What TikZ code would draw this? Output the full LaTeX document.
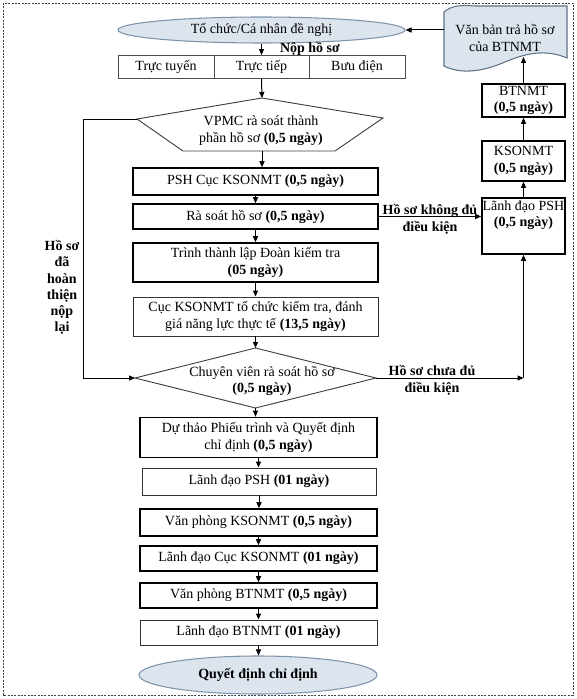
\documentclass[tikz,border=0pt]{standalone}
\usepackage{fontspec}
\setmainfont{Liberation Serif}
\usetikzlibrary{arrows.meta,calc,shapes.geometric}
\definecolor{efill}{HTML}{DCE4EE}
\definecolor{edraw}{HTML}{7E94AA}
\definecolor{ddraw}{HTML}{5F7388}
\begin{document}
\begin{tikzpicture}[x=0.75pt,y=-0.75pt,
  font=\fontsize{10.5}{12.6}\selectfont,
  sz/.style 2 args={minimum width=#1*0.75pt, minimum height=#2*0.75pt},
  base/.style={draw, inner sep=1pt, align=center, text=black},
  tbox/.style={base, line width=1.2pt, draw=black},
  nbox/.style={base, line width=0.7pt, draw=black!80},
  cell/.style={base, line width=0.7pt, draw=black!70},
  ell/.style={ellipse, draw=edraw, fill=efill, line width=0.8pt, inner sep=0pt, align=center},
  shp/.style={line width=0.7pt, draw=black!75},
  lbl/.style={align=center, font=\fontsize{10.5}{12.6}\selectfont\bfseries, inner sep=0pt},
  txt/.style={align=center, inner sep=0pt},
  arr/.style={-{Triangle[length=4.5pt,width=3.8pt]}, line width=0.75pt}
]
\useasboundingbox (0,0) rectangle (576,699);
\draw[line width=0.6pt, draw=black!75, dash pattern=on 1.6pt off 0.9pt] (3,3) rectangle (573,695);

% top ellipse
\node[ell, sz={287}{26}] (e1) at (261.5,30) {Tổ chức/Cá nhân đề nghị};
\node[lbl] (nop) at (310,49) {Nộp hồ sơ};

% table
\node[cell, sz={96}{23}] (c1) at (166,67) {Trực tuyến};
\node[cell, sz={95}{23}] (c2) at (261.5,67) {Trực tiếp};
\node[cell, sz={96}{23}] (c3) at (357,67) {Bưu điện};

% document shape
\draw[draw=ddraw, fill=efill, line width=0.8pt]
  (444,12) .. controls (452,5) and (462,5) .. (476,6) -- (567,6) -- (567,58)
  .. controls (546,49) and (526,53) .. (505,62)
  .. controls (484,71) and (462,75) .. (444,66) -- cycle;
\node[txt] (doc) at (505,38) {Văn bản trả hồ sơ\\của BTNMT};
\coordinate (docW) at (444,30);
\coordinate (docS) at (523.5,57);

% hexagon
\coordinate (hA) at (262,98);
\coordinate (hR) at (383,118);
\coordinate (hBR) at (335,151);
\coordinate (hBL) at (183,151);
\coordinate (hW) at (137,119);
\coordinate (hB) at (262,151);
\draw[shp] (hA) -- (hR) -- (hBR) -- (hBL) -- (hW) -- cycle;
\node[txt] (hex) at (261,131) {VPMC rà soát thành\\phần hồ sơ \textbf{(0,5 ngày)}};

% main column upper
\node[tbox, sz={245}{27}] (psh) at (255.5,181.5) {PSH Cục KSONMT \textbf{(0,5 ngày)}};
\node[tbox, sz={245}{25}] (ras) at (255.5,216.5) {Rà soát hồ sơ \textbf{(0,5 ngày)}};
\node[tbox, sz={245}{39}] (trinh) at (255.5,262.5) {Trình thành lập Đoàn kiểm tra\\\textbf{(05 ngày)}};
\node[nbox, sz={245}{39}] (cuc) at (255.5,316.5) {Cục KSONMT tổ chức kiểm tra, đánh\\giá năng lực thực tế \textbf{(13,5 ngày)}};

% diamond
\coordinate (dN) at (255.5,348);
\coordinate (dE) at (376,378);
\coordinate (dS) at (255.5,408);
\coordinate (dW) at (135,378);
\draw[shp] (dN) -- (dE) -- (dS) -- (dW) -- cycle;
\node[txt] (dia) at (262,381) {Chuyên viên rà soát hồ sơ\\\textbf{(0,5 ngày)}};

% main column lower
\node[tbox, sz={237}{40}] (dt) at (258.5,437.5) {Dự thảo Phiếu trình và Quyết định\\chỉ định \textbf{(0,5 ngày)}};
\node[nbox, sz={234}{27}] (ldp) at (259,481.5) {Lãnh đạo PSH \textbf{(01 ngày)}};
\node[tbox, sz={237}{27}] (vpks) at (258.5,522.5) {Văn phòng KSONMT \textbf{(0,5 ngày)}};
\node[tbox, sz={237}{25}] (ldc) at (258.5,558.5) {Lãnh đạo Cục KSONMT \textbf{(01 ngày)}};
\node[tbox, sz={237}{25}] (vpbt) at (258.5,595.5) {Văn phòng BTNMT \textbf{(0,5 ngày)}};
\node[nbox, sz={237}{25}] (ldbt) at (258.5,632.5) {Lãnh đạo BTNMT \textbf{(01 ngày)}};
\node[ell, sz={238}{38}, font=\fontsize{10.5}{12.6}\selectfont\bfseries] (qd) at (258,675) {Quyết định chỉ định};

% right column
\node[tbox, sz={83}{33}] (bt) at (523.5,100.5) {BTNMT\\\textbf{(0,5 ngày)}};
\node[tbox, sz={83}{40}] (ks) at (523.5,161) {KSONMT\\\textbf{(0,5 ngày)}};
\node[tbox, sz={83}{56}] (ld) at (523.5,226) {};
\node[txt, anchor=north] (ldt) at ($(ld.north)+(0,3)$) {Lãnh đạo PSH\\\textbf{(0,5 ngày)}};

% labels
\node[lbl] (l1) at (430,219.5) {Hồ sơ không đủ\\điều kiện};
\node[lbl] (l2) at (432,380) {Hồ sơ chưa đủ\\điều kiện};
\node[lbl, font=\fontsize{10.5}{12.2}\selectfont\bfseries] (l3) at (62,287.5) {Hồ sơ\\đã\\hoàn\\thiện\\nộp\\lại};

% connectors
\draw[arr] (e1.south) -- (c2.north);
\draw[arr] (c2.south) -- (hA);
\draw[arr] (hB) -- (hB |- psh.north);
\draw[arr] (psh.south) -- (ras.north);
\draw[arr] (ras.south) -- (trinh.north);
\draw[arr] (trinh.south) -- (cuc.north);
\draw[arr] (cuc.south) -- (dN);
\draw[arr] (dS) -- (dS |- dt.north);
\draw[arr] (dt.south) -- (dt.south |- ldp.north);
\draw[arr] (ldp.south) -- (ldp.south |- vpks.north);
\draw[arr] (vpks.south) -- (ldc.north);
\draw[arr] (ldc.south) -- (vpbt.north);
\draw[arr] (vpbt.south) -- (ldbt.north);
\draw[arr] (ldbt.south) -- (ldbt.south |- qd.north);

\draw[arr] (ras.east) -- (ras.east -| ld.west);
\coordinate (rc) at (ld.south |- dE);
\draw[arr] (dE) -- (rc);
\draw[arr] (rc) -- (ld.south);
\draw[arr] (ld.north) -- (ks.south);
\draw[arr] (ks.north) -- (bt.south);
\draw[arr] (bt.north) -- (docS);
\draw[arr] (docW) -- (e1.east);

\coordinate (lt) at (83,119);
\coordinate (lb) at (83,378);
\draw[arr] (hW) -- (lt) -- (lb) -- (dW);
\end{tikzpicture}
\end{document}
